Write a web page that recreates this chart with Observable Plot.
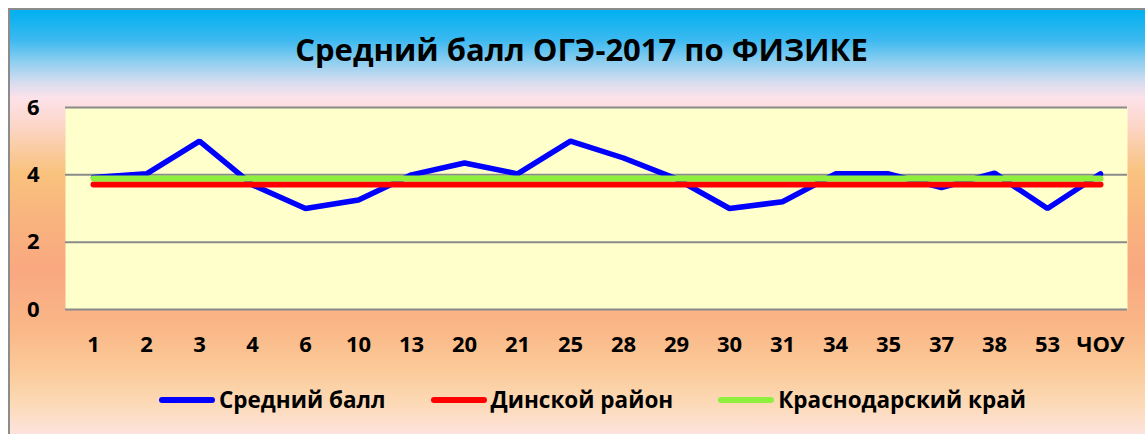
<!DOCTYPE html>
<html>
<head>
<meta charset="utf-8">
<script src="https://cdn.jsdelivr.net/npm/d3@7"></script>
<script src="https://cdn.jsdelivr.net/npm/@observablehq/plot@0.6"></script>
<style>
  html, body { margin: 0; padding: 0; background: #ffffff; }
  body { width: 1145px; height: 434px; position: relative; overflow: hidden; font-family: "Open Sans", sans-serif; }
  #frame {
    position: absolute; left: 8px; top: 8px; width: 1147px; height: 430px;
    border-top: 2px solid #8c8c8c; border-left: 2px solid #8c8c8c; box-sizing: border-box;
    background: linear-gradient(to bottom,
      #00b0f0 0px, #3cb9f0 30px, #8fcff0 52px, #d6dcef 72px, #fde2ea 88px,
      #fcd6c8 115px, #f9c27e 162px, #f9b27e 215px, #f9a880 262px, #fab888 320px,
      #fbca98 360px, #fcdab8 395px, #fde4e0 426px);
  }
  #title {
    position: absolute; left: 8px; width: 1147px; top: 34px; text-align: center;
    font-weight: 700; font-size: 31px; line-height: 1; color: #000;
  }
  #chart { position: absolute; left: 0; top: 0; }
  #legend {
    position: absolute; left: 159px; top: 389px; height: 22px; display: flex; align-items: center;
    gap: 45px; font-weight: 700; font-size: 22.5px; line-height: 1; color: #000; white-space: nowrap;
  }
  .item { display: flex; align-items: center; }
  .sw { width: 56px; height: 6px; border-radius: 3px; margin-right: 4px; }
</style>
</head>
<body>
<div id="frame"></div>
<div id="title"></div>
<div id="chart"></div>
<div id="legend"></div>
<script>
const titleText = "Средний балл ОГЭ-2017 по ФИЗИКЕ";
const categories = ["1","2","3","4","6","10","13","20","21","25","28","29","30","31","34","35","37","38","53","ЧОУ"];
const schoolScores = [3.92, 4.03, 5.0, 3.7, 3.0, 3.25, 4.0, 4.35, 4.03, 5.0, 4.5, 3.88, 3.0, 3.2, 4.03, 4.03, 3.62, 4.05, 3.0, 4.03];
const districtScore = 3.71;
const regionScore = 3.89;
const yTicks = [0, 2, 4, 6];
const seriesNames = ["Средний балл", "Динской район", "Краснодарский край"];
const seriesColors = ["#0000ff", "#ff0000", "#8ef03c"];

document.getElementById("title").textContent = titleText;

const schoolData = categories.map((c, i) => ({cat: c, v: schoolScores[i]}));
const districtData = categories.map(c => ({cat: c, v: districtScore}));
const regionData = categories.map(c => ({cat: c, v: regionScore}));

const chart = Plot.plot({
  width: 1145,
  height: 370,
  marginLeft: 65,
  marginRight: 18,
  marginTop: 107,
  marginBottom: 61,
  style: {background: "transparent", fontFamily: "Open Sans", color: "#000"},
  x: {type: "point", domain: categories, padding: 0.5},
  y: {domain: [0, 6]},
  marks: [
    Plot.frame({fill: "#ffffcc", stroke: null}),
    Plot.ruleY(yTicks, {stroke: "#8a8a8a", strokeWidth: 2}),
    Plot.axisX({tickSize: 0, tickPadding: 27, label: null, fontSize: 22, fontWeight: "bold", fill: "#000"}),
    Plot.axisY({ticks: yTicks, tickFormat: d3.format("d"), tickSize: 0, tickPadding: 26, label: null, fontSize: 22, fontWeight: "bold", fill: "#000"}),
    Plot.line(schoolData, {x: "cat", y: "v", stroke: seriesColors[0], strokeWidth: 5.5, strokeLinejoin: "miter", strokeLinecap: "round"}),
    Plot.line(districtData, {x: "cat", y: "v", stroke: seriesColors[1], strokeWidth: 6, strokeLinecap: "round"}),
    Plot.line(regionData, {x: "cat", y: "v", stroke: seriesColors[2], strokeWidth: 6, strokeLinecap: "round"})
  ]
});
document.getElementById("chart").appendChild(chart);

const legend = document.getElementById("legend");
seriesNames.forEach((name, i) => {
  const item = document.createElement("div");
  item.className = "item";
  const sw = document.createElement("div");
  sw.className = "sw";
  sw.style.background = seriesColors[i];
  const label = document.createElement("span");
  label.textContent = name;
  item.appendChild(sw);
  item.appendChild(label);
  legend.appendChild(item);
});
</script>
</body>
</html>
